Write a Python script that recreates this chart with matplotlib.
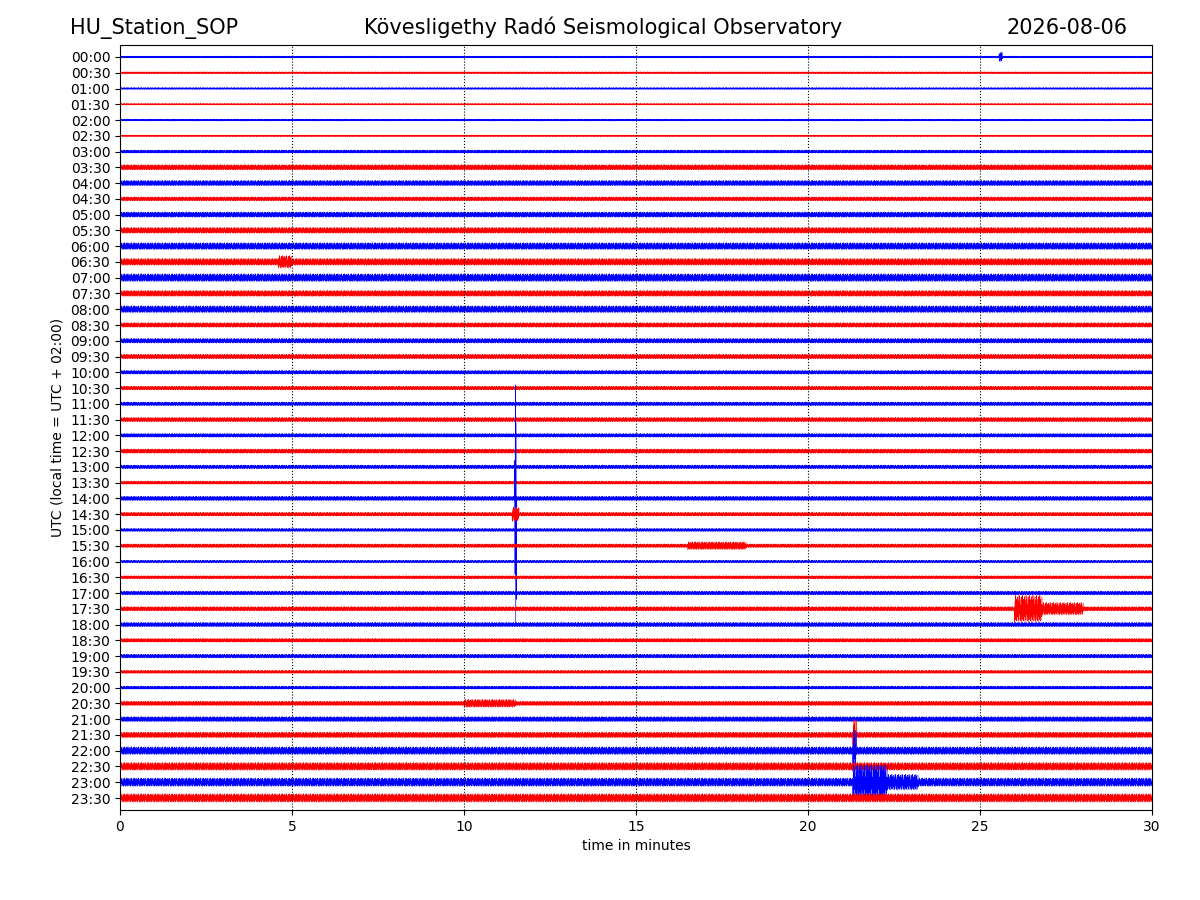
import numpy as np
import matplotlib.pyplot as plt

station = "HU_Station_SOP"
title = "Kövesligethy Radó Seismological Observatory"
date_str = "2026-08-06"

row_labels = ["%02d:%02d" % (h, m) for h in range(24) for m in (0, 30)]

# half-width of the noise band per row (in row-spacing units)
base_amp = [0.06, 0.06, 0.06, 0.05, 0.06, 0.05, 0.10, 0.17, 0.17, 0.13,
            0.17, 0.19, 0.22, 0.22, 0.25, 0.19, 0.22, 0.15, 0.15, 0.15,
            0.12, 0.12, 0.12, 0.14, 0.12, 0.14, 0.12, 0.10, 0.14, 0.12,
            0.10, 0.12, 0.08, 0.10, 0.12, 0.14, 0.14, 0.12, 0.12, 0.10,
            0.10, 0.14, 0.16, 0.18, 0.25, 0.25, 0.27, 0.27]

# events: row index, start minute, end minute, half-width
ev_row = [0, 13, 28, 29, 31, 35, 35, 41, 43, 44, 46, 46]
ev_t0 = [25.55, 4.6, 11.47, 11.40, 16.5, 26.0, 26.8, 10.0, 21.30, 21.30, 21.30, 22.3]
ev_t1 = [25.65, 5.0, 11.53, 11.60, 18.2, 26.8, 28.0, 11.5, 21.40, 21.40, 22.3, 23.2]
ev_amp = [0.30, 0.40, 8.0, 0.45, 0.25, 0.85, 0.40, 0.25, 1.0, 1.3, 1.10, 0.5]

# carrier pattern for the trace wiggle
pattern = [1.0, -0.6, 0.8, -1.0, 0.4, -0.7, 0.9, -0.3, 0.6, -0.9]

fig = plt.figure(figsize=(12, 9), dpi=100)
ax = fig.add_axes([0.1, 0.1, 0.86, 0.85])

n = 3000
t = np.linspace(0, 30, n)
carrier = np.resize(np.array(pattern), n)
for i, lab in enumerate(row_labels):
    env = np.full(n, base_amp[i])
    for r, a, b, amp in zip(ev_row, ev_t0, ev_t1, ev_amp):
        if r == i:
            env[(t >= a) & (t <= b)] = amp
    col = "blue" if i % 2 == 0 else "red"
    ax.plot(t, i + env * carrier, color=col, lw=0.45)

for x in range(5, 30, 5):
    ax.axvline(x, color="black", ls=":", lw=0.8)

ax.set_xlim(0, 30)
ax.set_ylim(47.76, -0.76)
ax.set_yticks(range(len(row_labels)))
ax.set_yticklabels(row_labels)
ax.set_xlabel("time in minutes")
ax.set_ylabel("UTC (local time = UTC + 02:00)")

fig.text(0.058, 0.962, station, fontsize=15, ha="left")
fig.text(0.503, 0.962, title, fontsize=15, ha="center")
fig.text(0.94, 0.962, date_str, fontsize=15, ha="right")

fig.savefig("out.png")
